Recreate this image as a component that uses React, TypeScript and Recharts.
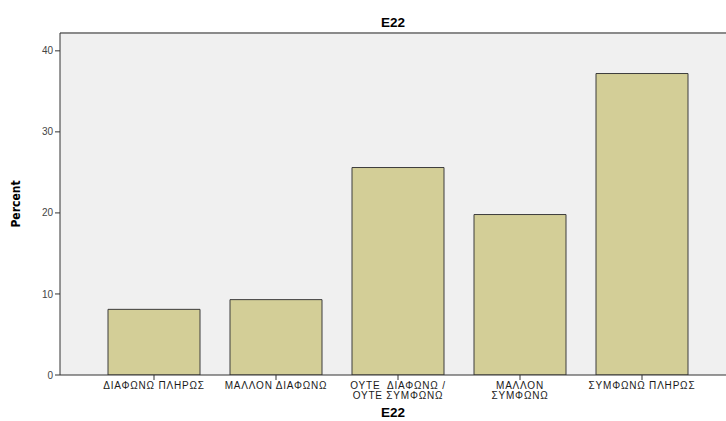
import React from 'react';
import { BarChart, Bar, XAxis, YAxis, CartesianGrid, Label, ReferenceLine } from 'recharts';

const categories = [
  'ΔΙΑΦΩΝΩ ΠΛΗΡΩΣ',
  'ΜΑΛΛΟΝ ΔΙΑΦΩΝΩ',
  'ΟΥΤΕ  ΔΙΑΦΩΝΩ /\nΟΥΤΕ ΣΥΜΦΩΝΩ',
  'ΜΑΛΛΟΝ\nΣΥΜΦΩΝΩ',
  'ΣΥΜΦΩΝΩ ΠΛΗΡΩΣ',
];
const percents = [8.1, 9.3, 25.6, 19.8, 37.2];
const yTicks = [0, 10, 20, 30, 40];
const yMax = 42.2;

const data = categories.map((name, i) => ({ name, percent: percents[i] }));

const XTick = (props: any) => {
  const { x, y, payload } = props;
  const lines = String(payload.value).split('\n');
  return (
    <text x={x} y={y} textAnchor="middle" fontSize={10} fill="#1a1a1a" letterSpacing={0.8} style={{ whiteSpace: 'pre' }}>
      {lines.map((l, i) => (
        <tspan key={i} x={x} dy={i === 0 ? 7 : 10}>{l}</tspan>
      ))}
    </text>
  );
};

const PercentLabel = (props: any) => {
  const vb = props.viewBox || {};
  const cx = vb.x + 16;
  const cy = vb.y + vb.height / 2;
  return (
    <text
      x={cx}
      y={cy}
      transform={`rotate(-90, ${cx}, ${cy})`}
      textAnchor="middle"
      dominantBaseline="central"
      fontSize={12}
      fontWeight="bold"
      fill="#000"
      style={{ fontFamily: '"Liberation Sans Narrow", "DejaVu Sans Condensed", Arial, sans-serif' }}
    >
      Percent
    </text>
  );
};

const App: React.FC = () => {
  return (
    <div>
      <style>{'body{margin:0}'}</style>
      <BarChart
        width={726}
        height={421}
        data={data}
        margin={{ top: 33, right: 0, left: 0, bottom: 0 }}
        style={{ fontFamily: 'Arial, "Liberation Sans", sans-serif' }}
      >
        <CartesianGrid horizontal={false} vertical={false} fill="#f0f0f0" />
        <XAxis
          dataKey="name"
          height={46}
          interval={0}
          tickSize={5}
          tickLine={{ stroke: '#333' }}
          axisLine={{ stroke: '#333' }}
          tick={<XTick />}
          padding={{ left: 33, right: 23 }}
        >
          <Label value="E22" position="insideBottom" offset={4} fontSize={13.5} fontWeight="bold" fill="#000" />
        </XAxis>
        <YAxis
          width={60}
          domain={[0, yMax]}
          ticks={yTicks}
          allowDataOverflow
          tickSize={5}
          tickLine={{ stroke: '#333' }}
          axisLine={{ stroke: '#333' }}
          tick={{ fontSize: 10, fill: '#444' }}
        >
          <Label content={<PercentLabel />} />
        </YAxis>
        <ReferenceLine y={yMax} stroke="#8a8a8a" strokeWidth={2}>
          <Label value="E22" position="top" offset={6} fontSize={13.5} fontWeight="bold" fill="#000" />
        </ReferenceLine>
        <Bar
          dataKey="percent"
          fill="#d3ce97"
          stroke="#3c3c3c"
          strokeWidth={1}
          barSize={92}
          isAnimationActive={false}
        />
      </BarChart>
    </div>
  );
};

export default App;
